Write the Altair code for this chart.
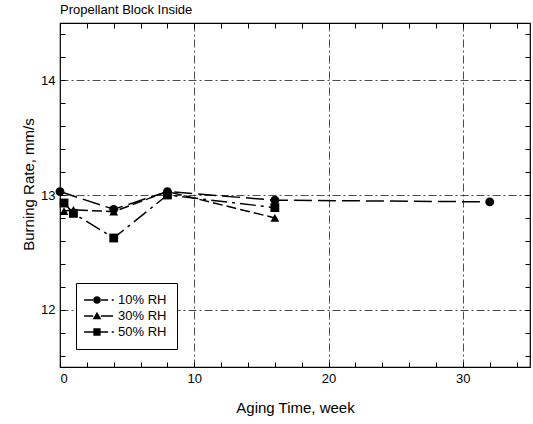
import altair as alt
import pandas as pd

# ---- data ----
series_names = ["10% RH", "30% RH", "50% RH"]

weeks_10 = [0, 4, 8, 16, 32]
rate_10 = [13.03, 12.875, 13.03, 12.955, 12.94]

weeks_30 = [0.3, 1, 4, 8, 16]
rate_30 = [12.86, 12.87, 12.855, 13.03, 12.80]

weeks_50 = [0.3, 1, 4, 8, 16]
rate_50 = [12.93, 12.84, 12.625, 13.00, 12.89]

x_tick_values = [0, 2, 4, 6, 8, 10, 12, 14, 16, 18, 20, 22, 24, 26, 28, 30, 32, 34]
y_tick_values = [11.6, 11.8, 12.0, 12.2, 12.4, 12.6, 12.8, 13.0, 13.2, 13.4,
                 13.6, 13.8, 14.0, 14.2, 14.4]

rows = []
for name, ws, rs in [(series_names[0], weeks_10, rate_10),
                     (series_names[1], weeks_30, rate_30),
                     (series_names[2], weeks_50, rate_50)]:
    for w, r in zip(ws, rs):
        rows.append({"series": name, "week": w, "rate": r})
df = pd.DataFrame(rows)

FONT = "Liberation Sans"

x_scale = alt.Scale(domain=[0, 35], nice=False, zero=False)
y_scale = alt.Scale(domain=[11.5, 14.5], nice=False, zero=False)

dash_scale = alt.Scale(domain=series_names,
                       range=[[18, 6], [10, 4], [16, 5, 3, 5]])
shape_scale = alt.Scale(domain=series_names,
                        range=["circle", "triangle-up", "square"])

# legend symbols: line + marker (+ trailing dot)
legend_paths = [
    "M-1.86,-0.12H-0.5V0.12H-1.86Z M0.5,-0.12H1.6V0.12H0.5Z M2.1,-0.12H2.4V0.12H2.1Z "
    "M-0.55,0A0.55,0.55 0 1,0 0.55,0A0.55,0.55 0 1,0 -0.55,0Z",
    "M-1.86,-0.12H-0.55V0.12H-1.86Z M0.55,-0.12H2.3V0.12H0.55Z "
    "M0,-0.62L0.62,0.45L-0.62,0.45Z",
    "M-1.86,-0.12H-0.5V0.12H-1.86Z M0.5,-0.12H1.6V0.12H0.5Z M2.1,-0.12H2.4V0.12H2.1Z "
    "M-0.52,-0.52H0.52V0.52H-0.52Z",
]
legend_shape_scale = alt.Scale(domain=series_names, range=legend_paths)

grid_x = {"condition": {"test": "datum.value % 10 === 0 && datum.value > 0", "value": 1}, "value": 0}
grid_y = {"condition": {"test": "abs(datum.value - round(datum.value)) < 0.001", "value": 1}, "value": 0}

x_axis_main = alt.Axis(
    values=x_tick_values, orient="bottom", offset=-5, tickSize=5, tickColor="black",
    domain=False, labelExpr="datum.value % 10 === 0 ? datum.label : ''",
    labelFont=FONT, labelFontSize=13, labelColor="black", labelPadding=5,
    grid=True, gridOpacity=grid_x, gridColor="#222", gridDash=[8, 3, 2, 3], gridWidth=0.8,
    title="Aging Time, week", titleFont=FONT, titleFontSize=15, titleFontWeight="normal",
    titleColor="black", titlePadding=15)
y_axis_main = alt.Axis(
    values=y_tick_values, orient="left", offset=-5, tickSize=5, tickColor="black",
    domain=False, labelExpr="abs(datum.value - round(datum.value)) < 0.001 ? format(datum.value, 'd') : ''",
    labelFont=FONT, labelFontSize=13, labelColor="black", labelPadding=5,
    grid=True, gridOpacity=grid_y, gridColor="#222", gridDash=[8, 3, 2, 3], gridWidth=0.8,
    title="Burning Rate, mm/s", titleFont=FONT, titleFontSize=15, titleFontWeight="normal",
    titleColor="black", titlePadding=4, titleY=161)

x_axis_top = alt.Axis(values=x_tick_values, orient="top", offset=-5, tickSize=5,
                      tickColor="black", domain=False, labels=False, grid=False, title=None)
y_axis_right = alt.Axis(values=y_tick_values, orient="right", offset=-5, tickSize=5,
                        tickColor="black", domain=False, labels=False, grid=False, title=None)

base = alt.Chart(df)

lines = base.mark_line(color="black", strokeWidth=1.5).encode(
    x=alt.X("week:Q", scale=x_scale, axis=x_axis_main),
    y=alt.Y("rate:Q", scale=y_scale, axis=y_axis_main),
    strokeDash=alt.StrokeDash("series:N", scale=dash_scale, legend=None),
    detail="series:N",
)

points = base.mark_point(filled=True, color="black", size=78, opacity=1).encode(
    x=alt.X("week:Q", scale=x_scale, axis=x_axis_top),
    y=alt.Y("rate:Q", scale=y_scale, axis=y_axis_right),
    shape=alt.Shape("series:N", scale=shape_scale, legend=None),
)

legend_layer = base.mark_point(filled=True, color="black", opacity=0).encode(
    x=alt.X("week:Q", scale=x_scale, axis=None),
    y=alt.Y("rate:Q", scale=y_scale, axis=None),
    shape=alt.Shape("series:N", scale=legend_shape_scale, legend=alt.Legend(
        title=None, orient="none", legendX=16, legendY=260,
        symbolSize=196, symbolOpacity=1, symbolFillColor="black",
        symbolStrokeColor="black", symbolStrokeWidth=0,
        labelFont=FONT, labelFontSize=13, labelColor="black",
        labelOffset=14, symbolOffset=4, rowPadding=2, padding=10,
        strokeColor="black", fillColor="white")),
)

chart = alt.layer(lines, points, legend_layer).resolve_scale(
    shape="independent"
).resolve_axis(
    x="independent", y="independent"
).properties(
    width=470, height=344,
    autosize=alt.AutoSizeParams(type="none"),
    padding={"left": 60, "top": 23, "right": 3, "bottom": 57},
    title=alt.TitleParams("Propellant Block Inside", anchor="start", frame="group",
                          font=FONT, fontSize=13, fontWeight="normal", color="black",
                          offset=6),
    background="white",
).configure_view(stroke="black", strokeWidth=1.2)

chart.save("out.html", embed_options={"renderer": "svg", "actions": False})
